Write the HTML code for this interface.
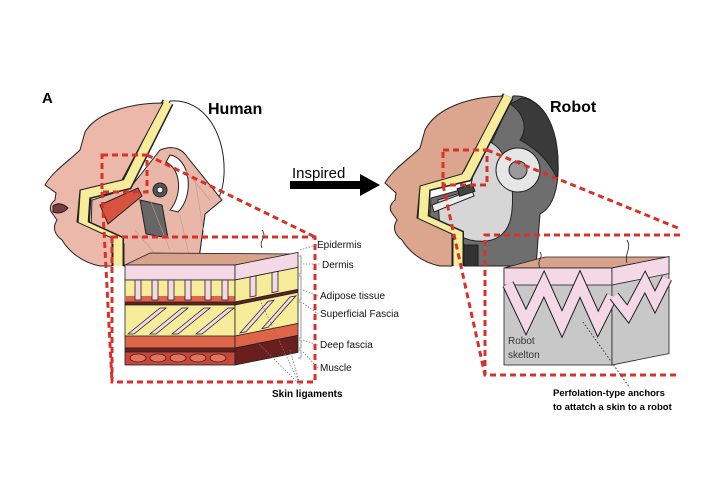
<!DOCTYPE html>
<html><head><meta charset="utf-8"><style>
html,body{margin:0;padding:0;background:#fff}
svg{display:block}
text{font-family:"Liberation Sans",Arial,sans-serif}
</style></head><body>
<svg width="720" height="480" viewBox="0 0 720 480" xmlns="http://www.w3.org/2000/svg">
<rect width="720" height="480" fill="#fff"/>
<text x="42" y="103" font-size="15" font-weight="bold">A</text>
<text x="208" y="114" font-size="16" font-weight="bold">Human</text>
<text x="550" y="112" font-size="16" font-weight="bold">Robot</text>

<!-- HUMAN HEAD -->
<g stroke="#222" stroke-width="1">
<path d="M170,101 C205,98 226,135 224,175 C223,195 215,207 205,214 L198,266 L124,266 L124,244 L89,228 L91,198 L131,187 Z" fill="#fff"/>
<path d="M160,150 C172,145 182,148 188,158 L222,200 L205,214 L198,266 L124,266 L124,244 L91,228 L92,200 L130,188 Z" fill="#e8b7a8"/>
<path d="M170,155 C190,158 195,195 178,212 L170,210 C182,196 182,170 166,162 Z" fill="#fff"/>
<circle cx="160" cy="190" r="7" fill="#555"/>
<circle cx="160" cy="190" r="3" fill="#fff"/>
<path d="M100,205 L138,188 L142,196 L108,224 Z" fill="#d8533f"/>
<path d="M140,200 L162,205 L168,238 L146,234 Z" fill="#666"/>
<path d="M168,102 L127,184 L85,194 L83,225 L118,241 L118,266" fill="none" stroke="#222" stroke-width="12"/>
<path d="M168,102 L127,184 L85,194 L83,225 L118,241 L118,266" fill="none" stroke="#f6ec9a" stroke-width="9"/>
<path d="M163,103 L122,180 L80,190 L77,222 L112,238 L112,266 L100,266 C80,262 68,250 62,240 C55,235 52,228 57,220 L52,213 C49,209 50,204 55,200 L56,193 L45,185 C52,172 70,160 80,150 L85,132 C95,115 125,103 163,103 Z" fill="#ebb8a9"/>
<path d="M53,206 C58,202 64,204 68,208 C64,213 58,214 53,212 Z" fill="#7a3a45"/>
</g>
<g stroke="#c9968a" stroke-width="0.6">
<line x1="150" y1="200" x2="170" y2="250"/><line x1="180" y1="215" x2="190" y2="260"/><line x1="135" y1="230" x2="160" y2="260"/><line x1="185" y1="170" x2="210" y2="200"/><line x1="195" y1="180" x2="205" y2="240"/>
</g>

<!-- ROBOT HEAD -->
<g stroke="#222" stroke-width="1">
<path d="M513,96 C545,94 560,135 558,175 C556,200 548,210 540,214 L536,266 L464,266 L464,244 L429,228 L431,198 L471,187 Z" fill="#6e6e6e"/>
<path d="M522,98 C548,100 562,140 557,178 C548,160 538,150 520,140 C530,125 520,110 510,104 Z" fill="#3a3a3a"/>
<path d="M480,140 C505,140 515,175 512,210 C510,235 495,245 470,240 L440,230 L438,200 L470,190 Z" fill="#d6d6d6"/>
<rect x="464" y="245" width="14" height="21" fill="#333"/>
<circle cx="518" cy="170" r="22" fill="#e6e6e6"/>
<circle cx="518" cy="170" r="9" fill="#9a9a9a"/>
<path d="M432,205 L472,190 L474,196 L434,212 Z" fill="#eee"/>
<rect x="458" y="186" width="16" height="8" fill="#444" transform="rotate(-18 466 190)"/>
<path d="M508,96 L467,176 L425,186 L423,219 L458,235 L458,266" fill="none" stroke="#222" stroke-width="12"/>
<path d="M508,96 L467,176 L425,186 L423,219 L458,235 L458,266" fill="none" stroke="#f6ec9a" stroke-width="9"/>
<path d="M503,96 L462,174 L420,186 L417,218 L452,234 L452,266 L440,266 C420,262 408,250 402,240 C395,235 392,228 397,220 L392,213 C389,209 390,204 395,200 L396,193 L385,183 C392,170 410,158 420,148 L425,130 C435,110 465,97 503,96 Z" fill="#dba58e"/>
</g>

<!-- ARROW -->
<text x="292" y="178" font-size="15">Inspired</text>
<rect x="290" y="181" width="72" height="8" fill="#000"/>
<polygon points="360,174 380,185 360,196" fill="#000"/>

<!-- HUMAN BLOCK -->
<g stroke="#222" stroke-width="0.8">
<polygon points="125,265 235,265 298,254 150,253" fill="#d9a38b"/>
<rect x="125" y="265" width="110" height="15" fill="#f4d8e6"/>
<rect x="125" y="280" width="110" height="22" fill="#f6ec9a"/>
<rect x="125" y="296" width="110" height="6" fill="#e06448" stroke="none"/>
<rect x="125" y="302" width="110" height="3" fill="#6b1e1e"/>
<rect x="125" y="305" width="110" height="33" fill="#f6ec9a"/>
<rect x="125" y="336" width="110" height="12" fill="#e06448"/>
<rect x="125" y="348" width="110" height="4" fill="#6b1e1e"/>
<rect x="125" y="352" width="110" height="13" fill="#c9463a"/>
<g fill="#f4d8e6">
<rect x="135" y="280" width="6" height="20"/><rect x="152" y="280" width="6" height="20"/><rect x="168" y="280" width="6" height="20"/><rect x="185" y="280" width="6" height="20"/><rect x="205" y="280" width="6" height="20"/><rect x="222" y="280" width="6" height="20"/>
</g>
<g fill="#f4d8e6">
<polygon points="128,334 160,308 166,308 134,334"/><polygon points="150,334 182,308 188,308 156,334"/><polygon points="172,334 204,308 210,308 178,334"/><polygon points="196,334 228,308 234,308 202,334"/>
</g>
<g fill="#e8735a">
<ellipse cx="138" cy="358" rx="8" ry="4"/><ellipse cx="158" cy="358" rx="8" ry="4"/><ellipse cx="178" cy="358" rx="8" ry="4"/><ellipse cx="198" cy="358" rx="8" ry="4"/><ellipse cx="218" cy="358" rx="8" ry="4"/>
</g>
<g transform="matrix(1,-0.2,0,1,0,47)">
<rect x="235" y="265" width="63" height="15" fill="#f4d8e6"/>
<rect x="235" y="280" width="63" height="22" fill="#f6ec9a"/>
<rect x="235" y="302" width="63" height="3" fill="#6b1e1e"/>
<rect x="235" y="305" width="63" height="33" fill="#f6ec9a"/>
<rect x="235" y="336" width="63" height="12" fill="#e06448"/>
<rect x="235" y="348" width="63" height="17" fill="#6b1e1e"/>
<rect x="250" y="280" width="6" height="20" fill="#f4d8e6"/><rect x="272" y="280" width="6" height="20" fill="#f4d8e6"/>
<polygon points="240,334 268,308 274,308 246,334" fill="#f4d8e6"/><polygon points="262,334 290,308 296,308 268,334" fill="#f4d8e6"/>
</g>
<path d="M262,248 C258,240 268,238 262,230" fill="none"/>
</g>

<!-- ROBOT BLOCK -->
<g stroke="#222" stroke-width="0.8">
<polygon points="504,268 612,268 669,257 545,257" fill="#d9a38b"/>
<rect x="504" y="268" width="108" height="97" fill="#c8c8c8"/>
<rect x="504" y="268" width="108" height="17" fill="#f4d8e6"/>
<g transform="matrix(1,-0.2,0,1,0,122.4)">
<rect x="612" y="268" width="57" height="97" fill="#c8c8c8"/>
<rect x="612" y="268" width="57" height="17" fill="#f4d8e6"/>
</g>
<polyline points="508,284 526,322 544,284 562,324 580,284 598,324 612,296" fill="none" stroke="#222" stroke-width="12"/>
<polyline points="508,284 526,322 544,284 562,324 580,284 598,324 612,296" fill="none" stroke="#f4d8e6" stroke-width="10"/>
<polyline points="614,296 628,314 645,282 655,302 667,278" fill="none" stroke="#222" stroke-width="11"/>
<polyline points="614,296 628,314 645,282 655,302 667,278" fill="none" stroke="#f4d8e6" stroke-width="9"/>
<path d="M540,268 C536,260 544,258 540,252" fill="none"/>
<path d="M627,263 C624,254 632,248 627,240" fill="none"/>
</g>
<text x="508" y="344" font-size="10" fill="#333">Robot</text>
<text x="508" y="358" font-size="10" fill="#333">skelton</text>

<!-- DASHED BOXES -->
<g fill="none" stroke="#d9302a" stroke-width="3" stroke-dasharray="6,4">
<rect x="102" y="155" width="45" height="37"/>
<rect x="112" y="237" width="203" height="145"/>
<line x1="147" y1="155" x2="315" y2="237"/>
<line x1="102" y1="192" x2="112" y2="382"/>
<rect x="443" y="150" width="44" height="35"/>
<polyline points="680,235 485,235 485,375 680,375"/>
<line x1="487" y1="150" x2="678" y2="228"/>
<line x1="443" y1="185" x2="485" y2="375"/>
</g>

<!-- LABELS -->
<g fill="none" stroke="#777" stroke-width="0.8" stroke-dasharray="1.5,1.5">
<line x1="300" y1="250" x2="316" y2="245"/>
<line x1="303" y1="264" x2="320" y2="264"/>
<line x1="303" y1="290" x2="318" y2="296"/>
<line x1="303" y1="303" x2="318" y2="314"/>
<line x1="303" y1="340" x2="318" y2="345"/>
<line x1="303" y1="352" x2="318" y2="368"/>
<line x1="260" y1="300" x2="300" y2="385"/>
<line x1="255" y1="340" x2="300" y2="385"/>
<line x1="290" y1="350" x2="300" y2="385"/>
</g>
<g fill="none" stroke="#999" stroke-width="1">
<path d="M298,256 h3 v18 h-3"/><path d="M298,276 h3 v24 h-3"/><path d="M298,302 h3 v36 h-3"/><path d="M298,340 h3 v8 h-3"/><path d="M298,350 h3 v8 h-3"/>
</g>
<line x1="583" y1="322" x2="630" y2="388" stroke="#333" stroke-width="1" stroke-dasharray="1.5,2"/>
<g font-size="10" fill="#111">
<text x="317" y="248">Epidermis</text>
<text x="322" y="268">Dermis</text>
<text x="320" y="299">Adipose tissue</text>
<text x="320" y="317">Superficial Fascia</text>
<text x="320" y="348">Deep fascia</text>
<text x="320" y="371">Muscle</text>
</g>
<text x="272" y="397" font-size="10" font-weight="bold">Skin ligaments</text>
<text x="553" y="396" font-size="9.5" font-weight="bold">Perfolation-type anchors</text>
<text x="553" y="410" font-size="9.5" font-weight="bold">to attatch a skin to a robot</text>
<rect x="680" y="380" width="40" height="40" fill="#fff"/>
</svg>
</body></html>
